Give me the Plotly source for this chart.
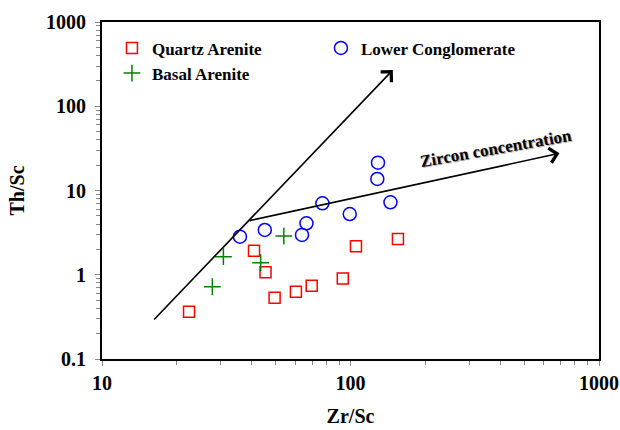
import plotly.graph_objects as go
import math

# Data
qa_zr = [22.4, 40.9, 45.5, 49.5, 60.3, 69.8, 93.1, 105.2, 155.2]
qa_th = [0.365, 1.93, 1.07, 0.534, 0.63, 0.74, 0.90, 2.18, 2.66]

ba_zr = [27.8, 30.8, 43.5, 53.9]
ba_th = [0.72, 1.64, 1.39, 2.88]

lc_zr = [35.9, 45.2, 63.8, 66.5, 77.1, 99.3, 128.2, 129.0, 144.8]
lc_th = [2.83, 3.40, 2.97, 4.08, 7.05, 5.26, 13.7, 21.4, 7.25]

# Trend arrows (start -> end)
arrow1 = [(16.0, 0.283), (148.0, 269.0)]
arrow2 = [(38.7, 4.35), (693.0, 27.6)]
label_pos = (384.0, 31.9)
label_text = "Zircon concentration"

x_ticks = [10, 100, 1000]
y_ticks = [0.1, 1, 10, 100, 1000]
x_tick_labels = ["10", "100", "1000"]
y_tick_labels = ["0.1", "1", "10", "100", "1000"]

FONT = "Liberation Serif"

fig = go.Figure()
fig.add_trace(go.Scatter(x=qa_zr, y=qa_th, mode="markers", name="<b>Quartz Arenite</b>",
                         marker=dict(symbol="square-open", size=11, color="#FF0000",
                                     line=dict(width=1.5, color="#FF0000"))))
fig.add_trace(go.Scatter(x=lc_zr, y=lc_th, mode="markers", name="<b>Lower Conglomerate</b>",
                         marker=dict(symbol="circle-open", size=13, color="#0000FF",
                                     line=dict(width=1.5, color="#0000FF"))))
fig.add_trace(go.Scatter(x=ba_zr, y=ba_th, mode="markers", name="<b>Basal Arenite</b>",
                         marker=dict(symbol="cross-thin-open", size=12, color="#008000",
                                     line=dict(width=1.5, color="#008000"))))

for (s, e) in (arrow1, arrow2):
    fig.add_annotation(x=math.log10(e[0]), y=math.log10(e[1]),
                       ax=math.log10(s[0]), ay=math.log10(s[1]),
                       xref="x", yref="y", axref="x", ayref="y",
                       text="", showarrow=True, arrowhead=4, arrowsize=1.8,
                       arrowwidth=1.6, arrowcolor="black")

fig.add_annotation(x=math.log10(label_pos[0]), y=math.log10(label_pos[1]),
                   xref="x", yref="y", text="<b>" + label_text + "</b>",
                   showarrow=False, textangle=-10,
                   font=dict(family=FONT, size=17, color="black", shadow="1px 1px 1px #999"))

minor_x = [v * m for m in (10, 100) for v in range(2, 10)]
minor_y = [v * m for m in (0.1, 1, 10, 100) for v in range(2, 10)]

axis_common = dict(showline=True, linecolor="black", linewidth=2, mirror=True,
                   ticks="outside", tickcolor="#888", ticklen=5, tickwidth=1,
                   showgrid=False, zeroline=False, automargin=False,
                   ticklabeloverflow="allow",
                   tickfont=dict(family=FONT, size=20, color="black"))

fig.update_xaxes(type="log", range=[1, 3], tickvals=x_ticks,
                 ticktext=["<b>%s</b>" % t for t in x_tick_labels],
                 minor=dict(tickvals=minor_x, ticks="outside", ticklen=4, tickcolor="#888"),
                 title=dict(text="<b>Zr/Sc</b>", font=dict(family=FONT, size=20, color="black"), standoff=16),
                 **axis_common)
fig.update_yaxes(type="log", range=[-1, 3], tickvals=y_ticks,
                 ticktext=["<b>%s</b>" % t for t in y_tick_labels],
                 minor=dict(tickvals=minor_y, ticks="outside", ticklen=4, tickcolor="#888"),
                 ticklabelstandoff=5,
                 title=dict(text="<b>Th/Sc</b>", font=dict(family=FONT, size=20, color="black"), standoff=16),
                 **axis_common)

fig.update_layout(width=620, height=430,
                  margin=dict(l=102, r=21, t=22, b=71, pad=0),
                  plot_bgcolor="white", paper_bgcolor="white",
                  showlegend=True,
                  legend=dict(orientation="h", x=0.02, y=0.975, xanchor="left", yanchor="top",
                              entrywidth=164, entrywidthmode="pixels",
                              bgcolor="rgba(0,0,0,0)", itemwidth=30, tracegroupgap=0,
                              font=dict(family=FONT, size=17, color="black")))

# remove the browser's default 8px page margin so the 620x430 figure fills the window exactly
fig.write_html("out.html",
               config={"displayModeBar": False},
               post_script="document.body.style.margin='0';document.body.style.overflow='hidden';")
